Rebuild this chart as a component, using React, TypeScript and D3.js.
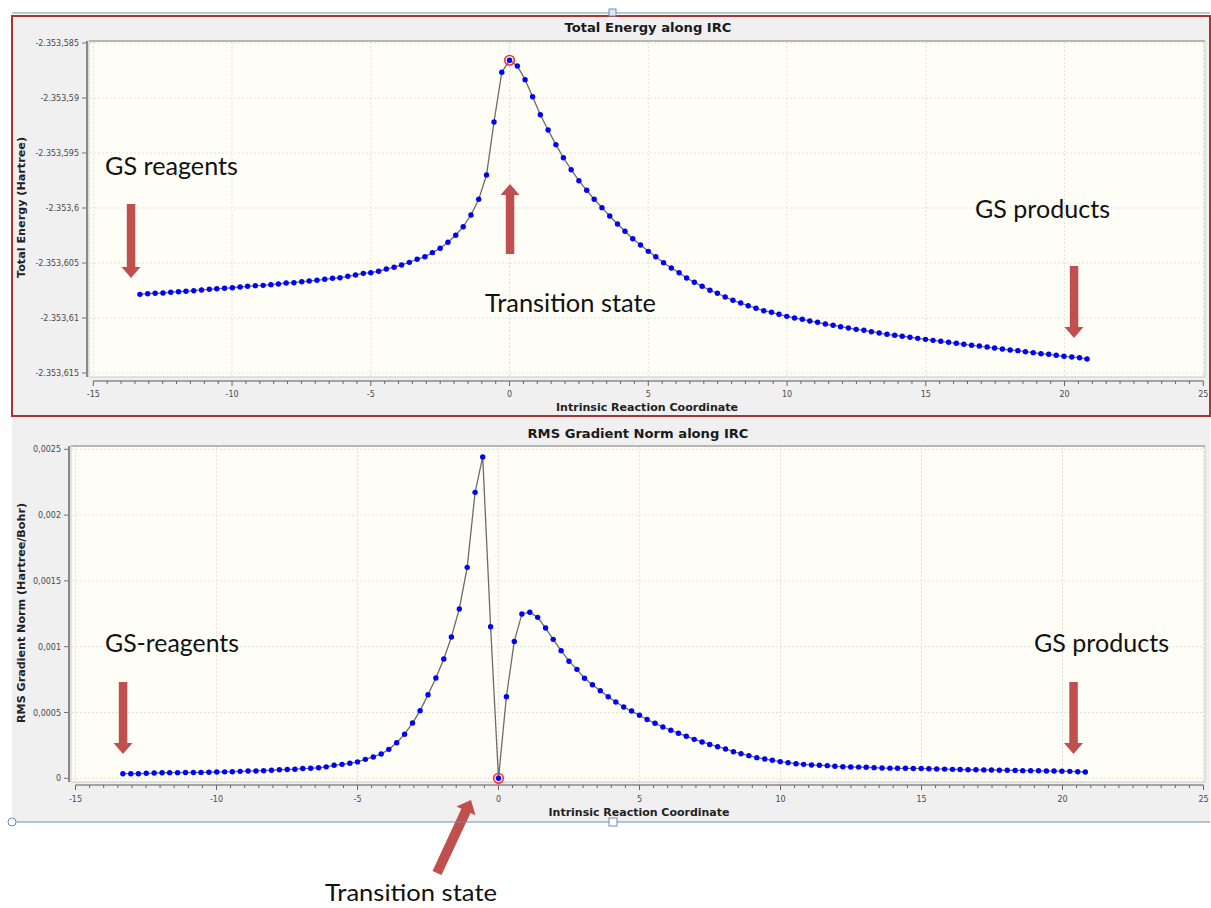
import React from 'react';
import * as d3 from 'd3';

// IRC coordinate of every point (shared by both panels)
const ircCoord = [
  -13.32, -13.04, -12.77, -12.49, -12.21, -11.93, -11.66, -11.38, -11.1, -10.82,
  -10.55, -10.27, -9.99, -9.71, -9.44, -9.16, -8.88, -8.6, -8.33, -8.05,
  -7.77, -7.49, -7.22, -6.94, -6.66, -6.38, -6.11, -5.83, -5.55, -5.27,
  -5.0, -4.72, -4.44, -4.16, -3.89, -3.61, -3.33, -3.05, -2.78, -2.5,
  -2.22, -1.94, -1.67, -1.39, -1.11, -0.83, -0.56, -0.28, 0,
  0.28, 0.56, 0.83, 1.11, 1.39, 1.67, 1.94, 2.22, 2.5, 2.78,
  3.05, 3.33, 3.61, 3.89, 4.16, 4.44, 4.72, 5.0, 5.27, 5.55,
  5.83, 6.11, 6.38, 6.66, 6.94, 7.22, 7.49, 7.77, 8.05, 8.33,
  8.6, 8.88, 9.16, 9.44, 9.71, 9.99, 10.27, 10.55, 10.82, 11.1,
  11.38, 11.66, 11.93, 12.21, 12.49, 12.77, 13.04, 13.32, 13.6, 13.88,
  14.15, 14.43, 14.71, 14.99, 15.26, 15.54, 15.82, 16.1, 16.37, 16.65,
  16.93, 17.21, 17.48, 17.76, 18.04, 18.32, 18.59, 18.87, 19.15, 19.43,
  19.7, 19.98, 20.26, 20.54, 20.81,
];

// Total energy (Hartree)
const totalEnergy = [
  -2353.60785, -2353.60779, -2353.60775, -2353.60773, -2353.60766, -2353.60761, -2353.60757, -2353.60752, -2353.60745, -2353.60739,
  -2353.60734, -2353.6073, -2353.60725, -2353.60718, -2353.60712, -2353.60706, -2353.60703, -2353.60697, -2353.60691, -2353.60682,
  -2353.60679, -2353.6067, -2353.60664, -2353.60657, -2353.60648, -2353.60639, -2353.60634, -2353.60621, -2353.60609, -2353.60594,
  -2353.60588, -2353.60575, -2353.60555, -2353.60539, -2353.60518, -2353.60494, -2353.60466, -2353.60443, -2353.60406, -2353.60366,
  -2353.60312, -2353.60248, -2353.6017, -2353.60064, -2353.59921, -2353.597, -2353.59218, -2353.58766, -2353.58657,
  -2353.58709, -2353.58833, -2353.58988, -2353.59152, -2353.59291, -2353.59424, -2353.59543, -2353.59652, -2353.59752, -2353.59839,
  -2353.59921, -2353.59997, -2353.60073, -2353.60145, -2353.60212, -2353.60279, -2353.60336, -2353.60394, -2353.60443, -2353.60497,
  -2353.60545, -2353.60588, -2353.60636, -2353.60675, -2353.60712, -2353.60748, -2353.60775, -2353.60809, -2353.60839, -2353.60864,
  -2353.60888, -2353.60912, -2353.60934, -2353.60948, -2353.60966, -2353.60985, -2353.61, -2353.61012, -2353.61027, -2353.61039,
  -2353.61055, -2353.61066, -2353.61079, -2353.61091, -2353.61103, -2353.61112, -2353.61125, -2353.61136, -2353.61148, -2353.61157,
  -2353.61166, -2353.61175, -2353.61185, -2353.61194, -2353.61203, -2353.61212, -2353.61221, -2353.6123, -2353.61239, -2353.61248,
  -2353.61255, -2353.61264, -2353.61273, -2353.61282, -2353.61291, -2353.61297, -2353.61306, -2353.61315, -2353.61325, -2353.6133,
  -2353.61339, -2353.61348, -2353.61355, -2353.61361, -2353.61373,
];

// RMS gradient norm (Hartree/Bohr)
const rmsGradient = [
  0.000035, 0.000035, 0.000035, 0.000038, 0.00004, 0.000042, 0.000043, 0.000043, 0.000044, 0.000044,
  0.000045, 0.000046, 0.000048, 0.000049, 0.00005, 0.000053, 0.000055, 0.000056, 0.000058, 0.000061,
  0.000065, 0.000067, 0.000069, 0.000074, 0.000076, 0.00008, 0.000087, 0.000099, 0.000106, 0.000114,
  0.000125, 0.000144, 0.000162, 0.000185, 0.00022, 0.00027, 0.000335, 0.00042, 0.000514, 0.000635,
  0.000762, 0.000907, 0.001074, 0.001287, 0.001603, 0.002173, 0.002442, 0.001152, 0.0,
  0.00062, 0.00104, 0.001249, 0.001262, 0.001223, 0.001142, 0.001056, 0.00097, 0.00089, 0.000828,
  0.00076, 0.000711, 0.000666, 0.00062, 0.00058, 0.000542, 0.000511, 0.000479, 0.000447, 0.000418,
  0.00039, 0.000365, 0.000342, 0.00032, 0.000296, 0.000276, 0.000257, 0.00024, 0.000223, 0.000202,
  0.000187, 0.000172, 0.000157, 0.000147, 0.000137, 0.000126, 0.000119, 0.000111, 0.000106, 0.000101,
  0.000099, 0.000096, 0.000091, 0.000088, 0.000086, 0.000085, 0.000084, 0.000081, 0.000078, 0.000077,
  0.000076, 0.000076, 0.000075, 0.000074, 0.000073, 0.000071, 0.00007, 0.000068, 0.000067, 0.000065,
  0.000065, 0.000064, 0.000063, 0.000061, 0.000061, 0.00006, 0.000058, 0.000058, 0.000057, 0.000055,
  0.000055, 0.000054, 0.000053, 0.00005, 0.000048,
];

const xTicks = [-15, -10, -5, 0, 5, 10, 15, 20, 25];
const energyTicks = [-2353.615, -2353.61, -2353.605, -2353.6, -2353.595, -2353.59, -2353.585];
const gradientTicks = [0, 0.0005, 0.001, 0.0015, 0.002, 0.0025];
const tsIndex = 48; // transition state point

const locale = d3.formatLocale({ decimal: ',', thousands: '.', grouping: [3], currency: ['', ''], minus: '-' });
const fmtEnergy = locale.format(',.3~f');
const fmtGrad = locale.format(',.4~f');
const fmtX = locale.format('d');

const ARROW = '#c0504d';
const UI = 'DejaVu Sans, Verdana, sans-serif';
const NOTE = 'Lato, Calibri, sans-serif';

function arrowPath(x1, y1, x2, y2, shaft = 8.5, head = 19, headLen = 11) {
  const len = Math.hypot(x2 - x1, y2 - y1);
  const ux = (x2 - x1) / len, uy = (y2 - y1) / len;
  const px = -uy, py = ux;
  const bx = x2 - ux * headLen, by = y2 - uy * headLen;
  const pts = [
    [x1 + px * shaft / 2, y1 + py * shaft / 2],
    [bx + px * shaft / 2, by + py * shaft / 2],
    [bx + px * head / 2, by + py * head / 2],
    [x2, y2],
    [bx - px * head / 2, by - py * head / 2],
    [bx - px * shaft / 2, by - py * shaft / 2],
    [x1 - px * shaft / 2, y1 - py * shaft / 2],
  ];
  return 'M' + pts.map(p => p[0].toFixed(1) + ',' + p[1].toFixed(1)).join('L') + 'Z';
}

function Panel({ p }) {
  const x = d3.scaleLinear().domain([-15, 25]).range(p.xRange);
  const y = d3.scaleLinear().domain(d3.extent(p.yTicks)).range(p.yRange);
  const pts = ircCoord.map((c, i) => [c, p.values[i]]);
  const line = d3.line().x(d => x(d[0])).y(d => y(d[1]));
  const minor = x.ticks(80);
  const [l, r] = p.plotX;
  const [t, b] = p.plotY;

  return (
    <g>
      <rect x={l} y={t} width={r - l} height={b - t} fill="#fefef6" stroke="#c9c9c9" strokeWidth={1} />
      {xTicks.map(v => (
        <line key={'gx' + v} x1={x(v)} x2={x(v)} y1={t + 1} y2={b - 1} stroke="#e2e2dc" strokeDasharray="2,2" />
      ))}
      {p.yTicks.map(v => (
        <line key={'gy' + v} x1={l + 1} x2={r - 1} y1={y(v)} y2={y(v)} stroke="#e2e2dc" strokeDasharray="2,2" />
      ))}
      <line x1={l} x2={r} y1={t} y2={t} stroke="#a8a8a8" strokeWidth={1.5} />

      {/* y axis */}
      <line x1={p.yAxisX} x2={p.yAxisX} y1={t} y2={b} stroke="#8a8a8a" strokeWidth={2} />
      {p.yTicks.map(v => (
        <g key={'ty' + v}>
          <line x1={p.yAxisX - 5} x2={p.yAxisX} y1={y(v)} y2={y(v)} stroke="#777" />
          <text x={p.yLabelX} y={y(v) + 3} textAnchor="end" fontFamily={UI} fontSize={8} fill="#4a4a4a">
            {p.fmt(v)}
          </text>
        </g>
      ))}

      {/* x axis */}
      <line x1={x(-15)} x2={x(25)} y1={p.xAxisY} y2={p.xAxisY} stroke="#8a8a8a" strokeWidth={1.5} />
      {minor.map(v => (
        <line key={'mx' + v} x1={x(v)} x2={x(v)} y1={p.xAxisY} y2={p.xAxisY + (v % 5 === 0 ? 5 : 3)} stroke="#666" />
      ))}
      {xTicks.map(v => (
        <text key={'tx' + v} x={x(v)} y={p.xTickY} textAnchor="middle" fontFamily={UI} fontSize={8} fill="#4a4a4a">
          {fmtX(v)}
        </text>
      ))}

      {/* titles */}
      <text x={p.titleX} y={p.titleY} textAnchor="middle" fontFamily={UI} fontWeight="bold" fontSize={12}
        fill="#1a1a1a" textLength={p.titleLen} lengthAdjust="spacingAndGlyphs">{p.title}</text>
      <text x={p.xTitleX} y={p.xTitleY} textAnchor="middle" fontFamily={UI} fontWeight="bold" fontSize={10}
        fill="#222" textLength={p.xTitleLen} lengthAdjust="spacingAndGlyphs">Intrinsic Reaction Coordinate</text>
      <text transform={`translate(${p.yTitle[0]},${p.yTitle[1]}) rotate(-90)`} textAnchor="middle" fontFamily={UI}
        fontWeight="bold" fontSize={10} fill="#222" textLength={p.yTitleLen} lengthAdjust="spacingAndGlyphs">{p.yTitleText}</text>

      {/* series */}
      <path d={line(pts)} fill="none" stroke="#6b6b6b" strokeWidth={1.3} />
      {pts.map((d, i) => (
        <circle key={'pt' + i} cx={x(d[0])} cy={y(d[1])} r={2.7} fill="#0000ff" />
      ))}
      <circle cx={x(pts[tsIndex][0])} cy={y(pts[tsIndex][1])} r={4.8} fill="none" stroke="#ff2a2a" strokeWidth={1.6} />
    </g>
  );
}

const topPanel = {
  xRange: [93.3, 1203.3], yRange: [373, 43], yTicks: energyTicks, values: totalEnergy, fmt: fmtEnergy,
  plotX: [89, 1205], plotY: [41, 377], yAxisX: 87, yLabelX: 79, xAxisY: 381, xTickY: 397,
  title: 'Total Energy along IRC', titleX: 648, titleY: 32, titleLen: 167,
  xTitleX: 647, xTitleY: 411, xTitleLen: 182,
  yTitleText: 'Total Energy (Hartree)', yTitle: [25, 207.5], yTitleLen: 141,
};

const bottomPanel = {
  xRange: [75.5, 1203.5], yRange: [778.3, 449.3], yTicks: gradientTicks, values: rmsGradient, fmt: fmtGrad,
  plotX: [71, 1205], plotY: [446, 782], yAxisX: 69, yLabelX: 61, xAxisY: 785, xTickY: 802,
  title: 'RMS Gradient Norm along IRC', titleX: 638, titleY: 438, titleLen: 221,
  xTitleX: 639, xTitleY: 816, xTitleLen: 181,
  yTitleText: 'RMS Gradient Norm (Hartree/Bohr)', yTitle: [25, 613], yTitleLen: 220,
};

const notes = [
  { text: 'GS reagents', x: 105, y: 175, w: 133, size: 25 },
  { text: 'Transition state', x: 485, y: 312, w: 171, size: 25 },
  { text: 'GS products', x: 975, y: 218, w: 135, size: 25 },
  { text: 'GS-reagents', x: 105, y: 652, w: 134, size: 25 },
  { text: 'GS products', x: 1034, y: 652, w: 135, size: 25 },
  { text: 'Transition state', x: 325, y: 901, w: 172, size: 24 },
];

const arrows = [
  [131, 204, 131, 278],
  [510, 254, 510, 184],
  [1074, 266, 1074, 338],
  [123, 682, 123, 754],
  [1073.5, 682, 1073.5, 754],
];

export default function App() {
  return (
    <svg width={1211} height={908} style={{ position: 'absolute', left: 0, top: 0, display: 'block', background: '#fff' }}>
      <rect x={12} y={417} width={1198} height={405} fill="#f0f0f0" />
      <rect x={12} y={16} width={1198} height={400} fill="#f0f0f0" />
      <Panel p={topPanel} />
      <Panel p={bottomPanel} />

      {arrows.map((a, i) => (
        <path key={'ar' + i} d={arrowPath(a[0], a[1], a[2], a[3])} fill={ARROW} />
      ))}
      <path d={arrowPath(437, 873, 471, 800, 10, 21, 12)} fill={ARROW} />

      {notes.map((n, i) => (
        <text key={'n' + i} x={n.x} y={n.y} fontFamily={NOTE} fontSize={n.size} fill="#111"
          textLength={n.w} lengthAdjust="spacingAndGlyphs">{n.text}</text>
      ))}

      {/* window frame */}
      <rect x={12} y={16} width={1198} height={400} fill="none" stroke="#a83434" strokeWidth={2} />
      <line x1={12} x2={1210} y1={13} y2={13} stroke="#6f8fb3" strokeWidth={1.2} />
      <line x1={12} x2={1210} y1={822} y2={822} stroke="#6f8fb3" strokeWidth={1.2} />
      <rect x={609} y={9} width={7} height={7} fill="#dbe8f5" stroke="#6f8fb3" />
      <rect x={609} y={818} width={8} height={8} fill="#fff" stroke="#6f8fb3" />
      <circle cx={12} cy={822} r={4} fill="#fff" stroke="#6f8fb3" />
    </svg>
  );
}
